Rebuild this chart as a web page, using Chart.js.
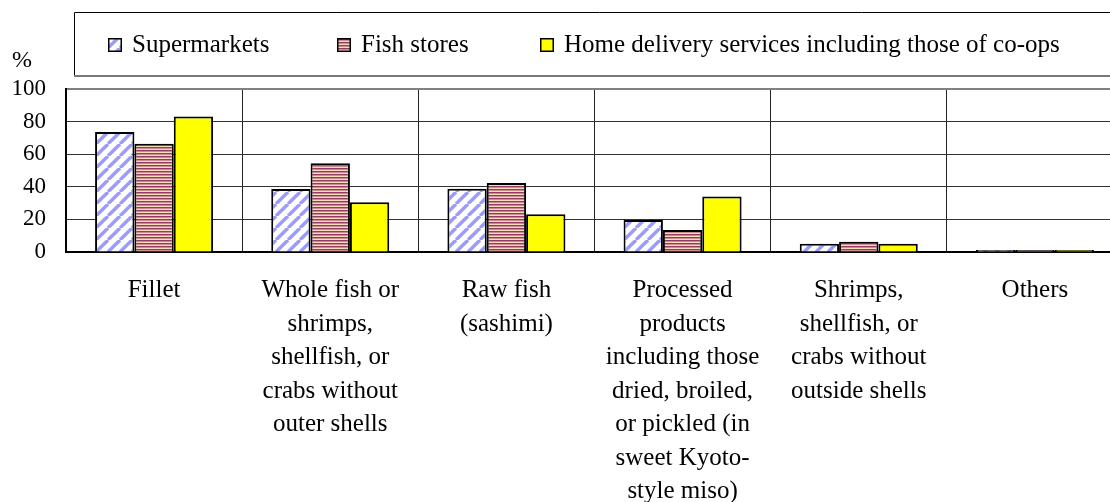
<!DOCTYPE html>
<html>
<head>
<meta charset="utf-8">
<script src="https://cdn.jsdelivr.net/npm/chart.js@4/dist/chart.umd.min.js"></script>
<style>
    html, body { margin: 0; padding: 0; background: #ffffff; overflow: hidden; }
    #wrap { position: absolute; left: 0; top: 0; width: 1123px; height: 515px; }
</style>
</head>
<body>
<div id="wrap"><canvas id="myBarChart" width="1123" height="515"></canvas></div>
<script>
// Categorias (etiquetas de varias lineas)
const categorias = [
    ['Fillet'],
    ['Whole fish or', 'shrimps,', 'shellfish, or', 'crabs without', 'outer shells'],
    ['Raw fish', '(sashimi)'],
    ['Processed', 'products', 'including those', 'dried, broiled,', 'or pickled (in', 'sweet Kyoto-', 'style miso)'],
    ['Shrimps,', 'shellfish, or', 'crabs without', 'outside shells'],
    ['Others']
];

// Valores en %
const supermarkets = [73.6, 38.7, 38.8, 19.6, 5.0, 1.3];
const fishStores = [66.4, 54.4, 42.3, 13.5, 6.3, 1.3];
const homeDelivery = [83.2, 30.5, 23.1, 34.0, 5.0, 1.3];

const seriesNames = ['Supermarkets', 'Fish stores', 'Home delivery services including those of co-ops'];
const yTicks = [0, 20, 40, 60, 80, 100];

// Patron de rayas diagonales (supermercados)
const patronDiagonal = () => {
    const s = 12;
    const c = document.createElement('canvas');
    c.width = s; c.height = s;
    const g = c.getContext('2d');
    g.fillStyle = '#ffffff';
    g.fillRect(0, 0, s, s);
    g.strokeStyle = '#9a9aff';
    g.lineWidth = 3.4;
    [-s, 0, s].forEach(k => {
        g.beginPath();
        g.moveTo(k, s);
        g.lineTo(k + s, 0);
        g.stroke();
    });
    return g.createPattern(c, 'repeat');
};

// Patron de rayas horizontales (pescaderias)
const patronHorizontal = () => {
    const c = document.createElement('canvas');
    c.width = 4; c.height = 3;
    const g = c.getContext('2d');
    g.fillStyle = '#953a63'; g.fillRect(0, 0, 4, 1);
    g.fillStyle = '#c98c8f'; g.fillRect(0, 1, 4, 1);
    g.fillStyle = '#f6dcbd'; g.fillRect(0, 2, 4, 1);
    return g.createPattern(c, 'repeat');
};

const fills = [patronDiagonal(), patronHorizontal(), '#ffff00'];

// Leyenda dibujada a mano dentro de su recuadro
const leyendaPlugin = {
    id: 'leyendaRecuadro',
    afterDraw(chart) {
        const ctx = chart.ctx;
        const W = chart.width;
        ctx.save();
        // recuadro
        ctx.strokeStyle = '#000000';
        ctx.lineWidth = 1;
        ctx.beginPath();
        ctx.moveTo(74.5, 77);
        ctx.lineTo(74.5, 12.5);
        ctx.lineTo(W + 5, 12.5);
        ctx.stroke();
        ctx.strokeStyle = '#7a7a7a';
        ctx.lineWidth = 2;
        ctx.beginPath();
        ctx.moveTo(74, 76);
        ctx.lineTo(W + 5, 76);
        ctx.stroke();

        const inicio = [108, 337, 540];
        ctx.font = '25px "Liberation Serif", "Times New Roman", serif';
        ctx.textBaseline = 'middle';
        ctx.textAlign = 'left';
        chart.data.datasets.forEach((ds, i) => {
            const x = inicio[i];
            const y = 38;
            ctx.fillStyle = ds.backgroundColor;
            ctx.fillRect(x, y, 14, 14);
            ctx.strokeStyle = '#000000';
            ctx.lineWidth = 1.5;
            ctx.strokeRect(x + 0.75, y + 0.75, 12.5, 12.5);
            ctx.fillStyle = '#000000';
            ctx.fillText(ds.label, x + 24, 45);
        });

        // unidad del eje Y
        ctx.font = '24px "Liberation Serif", "Times New Roman", serif';
        ctx.fillText('%', 12, 61);
        ctx.restore();
    }
};

const barGraphTiendas = (canvasId) => {
    const ctx = document.getElementById(canvasId).getContext('2d');
    new Chart(ctx, {
        type: 'bar',
        data: {
            labels: categorias,
            datasets: [
                {
                    label: seriesNames[0],
                    data: supermarkets,
                    backgroundColor: fills[0],
                    borderColor: '#000000',
                    borderWidth: 2
                },
                {
                    label: seriesNames[1],
                    data: fishStores,
                    backgroundColor: fills[1],
                    borderColor: '#000000',
                    borderWidth: 2
                },
                {
                    label: seriesNames[2],
                    data: homeDelivery,
                    backgroundColor: fills[2],
                    borderColor: '#000000',
                    borderWidth: 2
                }
            ]
        },
        options: {
            responsive: false,
            animation: false,
            events: [],
            datasets: {
                bar: {
                    categoryPercentage: 0.67,
                    barPercentage: 1.0
                }
            },
            layout: {
                padding: { left: 13, top: 89, right: 0, bottom: 0 }
            },
            scales: {
                x: {
                    afterFit: (axis) => { axis.height = 263; },
                    grid: {
                        color: '#222222',
                        lineWidth: 1,
                        drawTicks: false
                    },
                    border: { color: '#000000', width: 2 },
                    ticks: {
                        autoSkip: false,
                        maxRotation: 0,
                        minRotation: 0,
                        padding: 22,
                        color: '#000000',
                        font: { family: '"Liberation Serif", "Times New Roman", serif', size: 25, lineHeight: 1.34 }
                    }
                },
                y: {
                    min: 0,
                    max: 100,
                    afterFit: (axis) => { axis.width = 53; },
                    afterBuildTicks: (axis) => {
                        axis.ticks = yTicks.map(v => ({ value: v }));
                    },
                    grid: {
                        color: (c) => (c.tick && c.tick.value === 100) ? '#808080' : '#333333',
                        lineWidth: (c) => (c.tick && c.tick.value === 100) ? 2 : 1,
                        drawTicks: false
                    },
                    border: { color: '#000000', width: 2 },
                    ticks: {
                        padding: 20,
                        color: '#000000',
                        font: { family: '"Liberation Serif", "Times New Roman", serif', size: 23 }
                    }
                }
            },
            plugins: {
                legend: { display: false },
                title: { display: false },
                tooltip: { enabled: false }
            }
        },
        plugins: [leyendaPlugin]
    });
};

document.addEventListener('DOMContentLoaded', function () {
    barGraphTiendas('myBarChart');
});
</script>
</body>
</html>
